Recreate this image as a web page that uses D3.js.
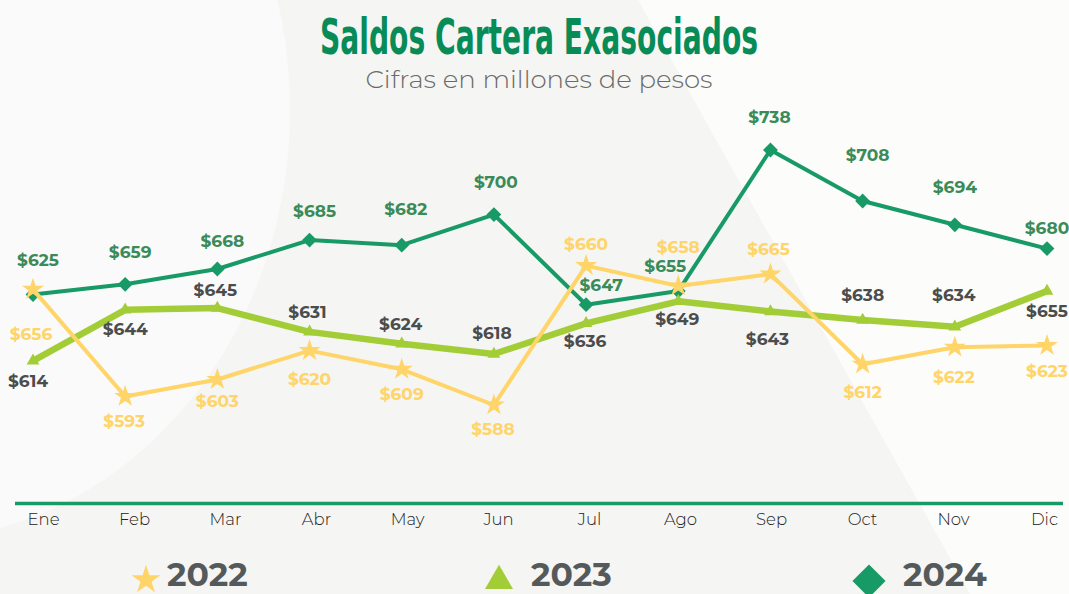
<!DOCTYPE html>
<html>
<head>
<meta charset="utf-8">
<script src="https://cdn.jsdelivr.net/npm/d3@7"></script>
<style>
  html, body { margin: 0; padding: 0; background: #f6f6f4; }
  svg { display: block; }
</style>
</head>
<body>
<svg id="chart" width="1069" height="594"></svg>
<script>
// ---- data ----
const months = ["Ene","Feb","Mar","Abr","May","Jun","Jul","Ago","Sep","Oct","Nov","Dic"];
const values2022 = [656,593,603,620,609,588,670,658,665,612,622,623];
const values2023 = [614,644,645,631,624,618,636,649,643,638,634,655];
const values2024 = [653,659,668,685,682,700,647,655,738,708,694,680];
const labels2022 = [656,593,603,620,609,588,660,658,665,612,622,623];
const labels2023 = [614,644,645,631,624,618,636,649,643,638,634,655];
const labels2024 = [625,659,668,685,682,700,647,655,738,708,694,680];
const legendYears = ["2022","2023","2024"];

// label placement (pixel offsets from the point)
const labelDx2022 = [-2,-1,0,0,0,-1,0,0,-2,0,-1,0];
const labelDy2022 = [45,25,22,28,25,24,-22,-39,-25,28,30,26];
const labelDx2023 = [-5,0,-2,-2,-1,-2,-1,-1,-3,0,-1,0];
const labelDy2023 = [20,19,-18,-20,-20,-21,18,18,28,-25,-32,20];
const labelDx2024 = [5,5,5,5,4,2,15,-13,-1,5,0,0];
const labelDy2024 = [-34,-32,-28,-29,-36,-33,-20,-25,-33,-46,-38,-21];

const W = 1069, H = 594;
const svg = d3.select("#chart");

// ---- background ----
svg.append("rect").attr("width", W).attr("height", H).attr("fill", "#f5f5f3");
svg.append("ellipse").attr("cx", -90).attr("cy", 110).attr("rx", 380).attr("ry", 430).attr("fill", "#fafafa");
svg.append("path").attr("d", "M638,0 L1069,0 L1069,594 L970,594 Z").attr("fill", "#fcfcfb");

// ---- title ----
svg.append("text")
  .attr("x", 539).attr("y", 54)
  .attr("text-anchor", "middle")
  .attr("font-family", "'Liberation Sans Narrow', 'DejaVu Sans Condensed', sans-serif")
  .attr("font-weight", "bold")
  .attr("font-size", 49)
  .attr("textLength", 438).attr("lengthAdjust", "spacingAndGlyphs")
  .attr("fill", "#078b57")
  .text("Saldos Cartera Exasociados");

svg.append("text")
  .attr("x", 539).attr("y", 88)
  .attr("text-anchor", "middle")
  .attr("font-family", "Montserrat, 'Open Sans', sans-serif")
  .attr("font-weight", 300)
  .attr("font-size", 25)
  .attr("textLength", 347).attr("lengthAdjust", "spacingAndGlyphs")
  .attr("fill", "#6a6a6a")
  .text("Cifras en millones de pesos");

// ---- scales ----
const x = d3.scalePoint().domain(months).range([33, 1047]);
const xLab = d3.scalePoint().domain(months).range([43, 1044]);
const y = d3.scaleLinear().domain([588, 738]).range([405, 150]);

// ---- axis ----
svg.append("line")
  .attr("x1", 15).attr("x2", 1063).attr("y1", 503.5).attr("y2", 503.5)
  .attr("stroke", "#179a66").attr("stroke-width", 3.5);

const axis = svg.append("g")
  .attr("transform", "translate(0,503)")
  .call(d3.axisBottom(xLab).tickSize(0).tickPadding(10));
axis.select(".domain").remove();
axis.selectAll("text")
  .attr("font-family", "Montserrat, 'Open Sans', sans-serif")
  .attr("font-weight", 300)
  .attr("font-size", 16.5)
  .attr("fill", "#222");

// ---- series ----
const starSym = d3.symbol().type(d3.symbolStar);
const triSym = d3.symbol().type(d3.symbolTriangle);
const sqSym = d3.symbol().type(d3.symbolSquare);

const series = [
  { values: values2024, labels: labels2024, dx: labelDx2024, dy: labelDy2024,
    color: "#189a66", width: 4, labelColor: "#3b8b58",
    marker: d => sqSym.size(110)(), rot: 45 },
  { values: values2023, labels: labels2023, dx: labelDx2023, dy: labelDy2023,
    color: "#a3cd37", width: 6.5, labelColor: "#4b4d4d",
    marker: d => triSym.size(70)(), rot: 0 },
  { values: values2022, labels: labels2022, dx: labelDx2022, dy: labelDy2022,
    color: "#ffd468", width: 4, labelColor: "#ffd468",
    marker: d => starSym.size(150)(), rot: 0 }
];

const line = d3.line().x((d, i) => x(months[i])).y(d => y(d));

series.forEach(s => {
  const g = svg.append("g");
  g.append("path")
    .attr("d", line(s.values))
    .attr("fill", "none")
    .attr("stroke", s.color)
    .attr("stroke-width", s.width)
    .attr("stroke-linejoin", "round");
  g.selectAll("path.m").data(s.values).join("path")
    .attr("class", "m")
    .attr("d", s.marker)
    .attr("fill", s.color)
    .attr("transform", (d, i) => `translate(${x(months[i])},${y(d)}) rotate(${s.rot})`);
});

// labels on top
series.forEach(s => {
  svg.append("g").selectAll("text").data(s.labels).join("text")
    .attr("x", (d, i) => x(months[i]) + s.dx[i])
    .attr("y", (d, i) => y(s.values[i]) + s.dy[i])
    .attr("dy", "0.35em")
    .attr("text-anchor", "middle")
    .attr("font-family", "Montserrat, 'Open Sans', sans-serif")
    .attr("font-weight", "bold")
    .attr("font-size", 17)
    .attr("fill", s.labelColor)
    .text(d => "$" + d);
});

// ---- legend ----
const legendColors = ["#ffd468", "#a3cd37", "#189a66"];
const legendSyms = [
  { sym: starSym.size(260)(), cx: 146, cy: 580, rot: 0 },
  { sym: triSym.size(340)(), cx: 499, cy: 581, rot: 0 },
  { sym: sqSym.size(550)(), cx: 869, cy: 581, rot: 45 }
];
const legendTextX = [167, 531, 903];
legendYears.forEach((yr, i) => {
  svg.append("path")
    .attr("d", legendSyms[i].sym)
    .attr("fill", legendColors[i])
    .attr("transform", `translate(${legendSyms[i].cx},${legendSyms[i].cy}) rotate(${legendSyms[i].rot})`);
  svg.append("text")
    .attr("x", legendTextX[i]).attr("y", 586)
    .attr("font-family", "Montserrat, 'Open Sans', sans-serif")
    .attr("font-weight", "bold")
    .attr("font-size", 33)
    .attr("fill", "#545a5b")
    .text(yr);
});
</script>
</body>
</html>
